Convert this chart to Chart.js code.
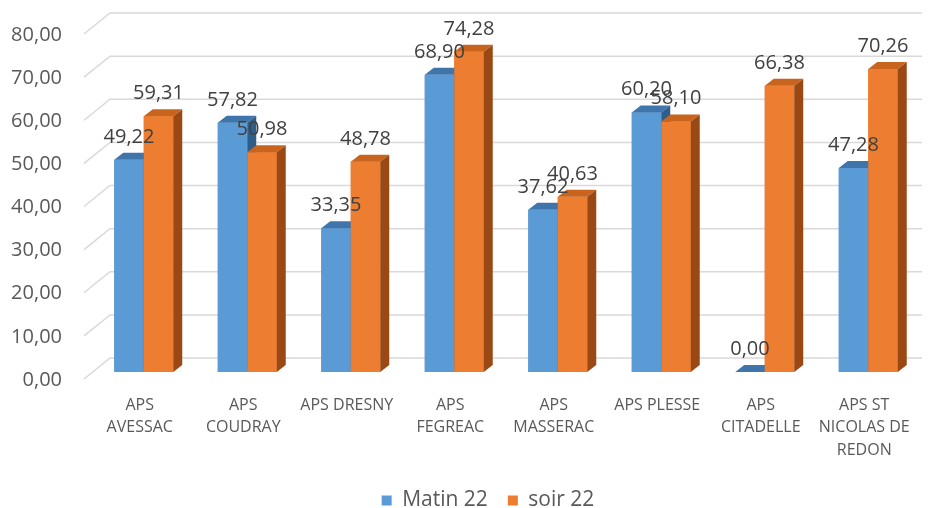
<!DOCTYPE html>
<html>
<head>
<meta charset="utf-8">
<script src="https://cdn.jsdelivr.net/npm/chart.js@4"></script>
<style>
  html, body { margin: 0; padding: 0; background: #ffffff; }
  #wrap { width: 931px; height: 508px; }
</style>
</head>
<body>
<div id="wrap"><canvas id="myChart"></canvas></div>
<script>
const categories = [
  ["APS", "AVESSAC"],
  ["APS", "COUDRAY"],
  "APS DRESNY",
  ["APS", "FEGREAC"],
  ["APS", "MASSERAC"],
  "APS PLESSE",
  ["APS", "CITADELLE"],
  ["APS ST", "NICOLAS DE", "REDON"],
];
const matinValues = [49.22, 57.82, 33.35, 68.9, 37.62, 60.2, 0, 47.28];
const soirValues = [59.31, 50.98, 48.78, 74.28, 40.63, 58.1, 66.38, 70.26];
const seriesNames = ["Matin 22", "soir 22"];
const yTicks = [0, 10, 20, 30, 40, 50, 60, 70, 80];

const fontName = "'Open Sans', sans-serif";
// front / top / side colours for each series
const faceColors = [
  { front: "#5b9bd5", top: "#3f75ab", side: "#2e5d8a" },
  { front: "#ed7d31", top: "#c9641f", side: "#9a4914" },
];
const depthX = 9;
const depthY = -7;

function formatValue(v) {
  return v.toFixed(2).replace(".", ",");
}

// slanted floor/wall grid like the excel 3d chart
const gridPlugin = {
  id: "grid3d",
  afterLayout(chart) {
    // the legend sits a bit right of centre in the original
    chart.legend.left += 28;
    chart.legend.right += 28;
  },
  beforeDatasetsDraw(chart) {
    const ctx = chart.ctx;
    const yScale = chart.scales.y;
    ctx.save();
    ctx.strokeStyle = "#d9d9d9";
    ctx.lineWidth = 1.5;
    yTicks.forEach((t) => {
      const y = yScale.getPixelForValue(t);
      ctx.beginPath();
      ctx.moveTo(84, y + 7);
      ctx.lineTo(110, y - 14);
      ctx.lineTo(922, y - 14);
      ctx.stroke();
    });
    ctx.restore();
  },
};

const barsPlugin = {
  id: "bars3d",
  afterDatasetsDraw(chart) {
    const ctx = chart.ctx;
    ctx.save();
    const count = categories.length;
    for (let i = 0; i < count; i++) {
      for (let d = 0; d < chart.data.datasets.length; d++) {
        const bar = chart.getDatasetMeta(d).data[i];
        const c = faceColors[d];
        const left = bar.x - bar.width / 2;
        const right = bar.x + bar.width / 2;
        const top = bar.y;
        const base = bar.base;

        ctx.fillStyle = c.front;
        ctx.fillRect(left, top, right - left, base - top);

        ctx.fillStyle = c.top;
        ctx.beginPath();
        ctx.moveTo(left, top);
        ctx.lineTo(right, top);
        ctx.lineTo(right + depthX, top + depthY);
        ctx.lineTo(left + depthX, top + depthY);
        ctx.closePath();
        ctx.fill();

        ctx.fillStyle = c.side;
        ctx.beginPath();
        ctx.moveTo(right, top);
        ctx.lineTo(right + depthX, top + depthY);
        ctx.lineTo(right + depthX, base + depthY);
        ctx.lineTo(right, base);
        ctx.closePath();
        ctx.fill();
      }
    }

    ctx.fillStyle = "#404040";
    ctx.font = "20px " + fontName;
    ctx.textAlign = "center";
    ctx.textBaseline = "alphabetic";
    for (let d = 0; d < chart.data.datasets.length; d++) {
      const meta = chart.getDatasetMeta(d);
      meta.data.forEach((bar, i) => {
        const v = chart.data.datasets[d].data[i];
        ctx.fillText(formatValue(v), bar.x, bar.y - 17);
      });
    }
    ctx.restore();
  },
};

const myChart = new Chart(document.getElementById("myChart").getContext("2d"), {
  type: "bar",
  data: {
    labels: categories,
    datasets: [
      {
        label: seriesNames[0],
        data: matinValues,
        backgroundColor: faceColors[0].front,
      },
      {
        label: seriesNames[1],
        data: soirValues,
        backgroundColor: faceColors[1].front,
      },
    ],
  },
  options: {
    responsive: true,
    maintainAspectRatio: false,
    animation: false,
    categoryPercentage: 0.57,
    barPercentage: 1,
    layout: {
      padding: { top: 27, right: 11, bottom: -13, left: 0 },
    },
    plugins: {
      legend: {
        position: "bottom",
        labels: {
          boxWidth: 10,
          boxHeight: 10,
          padding: 20,
          color: "#595959",
          font: { family: fontName, size: 21 },
        },
      },
      tooltip: { enabled: false },
    },
    scales: {
      x: {
        grid: { display: false },
        border: { display: false },
        ticks: {
          color: "#595959",
          font: { family: fontName, size: 16, lineHeight: 1.4 },
          padding: 14,
          labelOffset: -4,
          maxRotation: 0,
          autoSkip: false,
        },
        afterFit(scale) {
          scale.height = 98;
        },
      },
      y: {
        min: 0,
        max: 80,
        grid: { display: false, drawTicks: false },
        border: { display: false },
        ticks: {
          stepSize: 10,
          padding: 30,
          labelOffset: 8,
          color: "#595959",
          font: { family: fontName, size: 20 },
          callback: (v) => formatValue(v),
        },
        afterFit(scale) {
          scale.width = 92;
          scale.paddingTop = 0;
          scale.paddingBottom = 0;
        },
      },
    },
  },
  plugins: [gridPlugin, barsPlugin],
});
</script>
</body>
</html>
